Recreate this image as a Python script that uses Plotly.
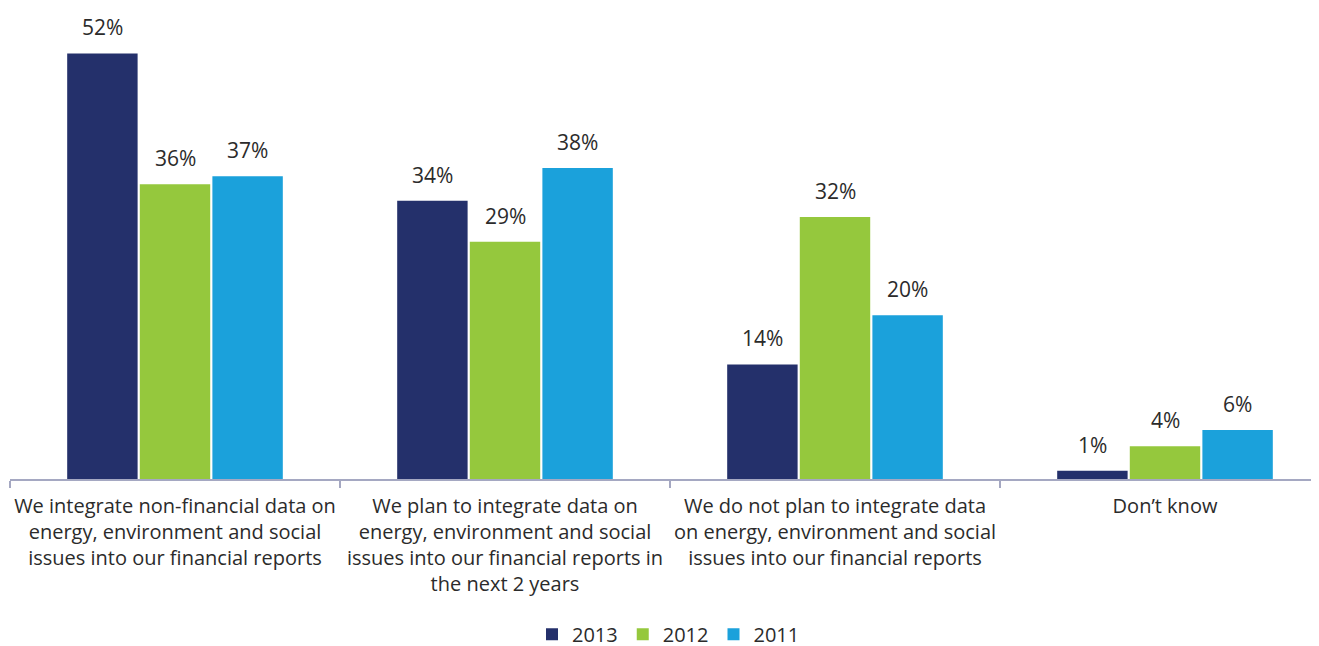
import plotly.graph_objects as go

categories = [
    "We integrate non-financial data on<br>energy, environment and social<br>issues into our financial reports",
    "We plan to integrate data on<br>energy, environment and social<br>issues into our financial reports in<br>the next 2 years",
    "We do not plan to integrate data<br>on energy, environment and social<br>issues into our financial reports",
    "Don\u2019t know",
]
years = ["2013", "2012", "2011"]
values_2013 = [52, 34, 14, 1]
values_2012 = [36, 29, 32, 4]
values_2011 = [37, 38, 20, 6]

colors = {"2013": "#24306b", "2012": "#95c83d", "2011": "#1ba1db"}
series = {"2013": values_2013, "2012": values_2012, "2011": values_2011}

FONT = "Open Sans, Noto Sans, sans-serif"
TEXT = "#2b2b2b"

fig = go.Figure()
for year in years:
    fig.add_trace(
        go.Bar(
            x=categories,
            y=series[year],
            name=year,
            marker=dict(color=colors[year], line=dict(width=0)),
        )
    )

# value labels above the bars
slot = 0.22
annotations = []
for k, year in enumerate(years):
    dx = (k - 1) * slot
    for i, v in enumerate(series[year]):
        annotations.append(
            dict(
                x=i + dx,
                y=v,
                xref="x",
                yref="y",
                text=f"{v}%",
                showarrow=False,
                yanchor="bottom",
                yshift=10,
                font=dict(family=FONT, size=21, color=TEXT),
            )
        )

# the page body adds an 8px offset, margins account for it
fig.update_layout(
    width=1319,
    height=646,
    margin=dict(l=2, r=0, t=2, b=175, autoexpand=False),
    plot_bgcolor="white",
    paper_bgcolor="white",
    barmode="group",
    bargap=0.34,
    bargroupgap=0.03,
    annotations=annotations,
    showlegend=True,
    legend=dict(
        orientation="h",
        x=0.5,
        xanchor="center",
        y=-0.331,
        yanchor="middle",
        font=dict(family=FONT, size=20, color=TEXT),
        itemwidth=30,
        tracegroupgap=0,
    ),
    font=dict(family=FONT, color=TEXT),
)

fig.update_xaxes(
    type="category",
    range=[-0.5, -0.5 + 1317 / 330],
    tickson="boundaries",
    ticks="outside",
    ticklen=7,
    tickwidth=2,
    tickcolor="#a5a8c2",
    tickangle=0,
    ticklabelstandoff=8,
    showline=True,
    linecolor="#a5a8c2",
    linewidth=2,
    showgrid=False,
    tickfont=dict(family=FONT, size=20, color=TEXT),
)
fig.update_yaxes(
    range=[0, 57.3],
    visible=False,
    showgrid=False,
    zeroline=False,
)

fig.write_html("out.html")
